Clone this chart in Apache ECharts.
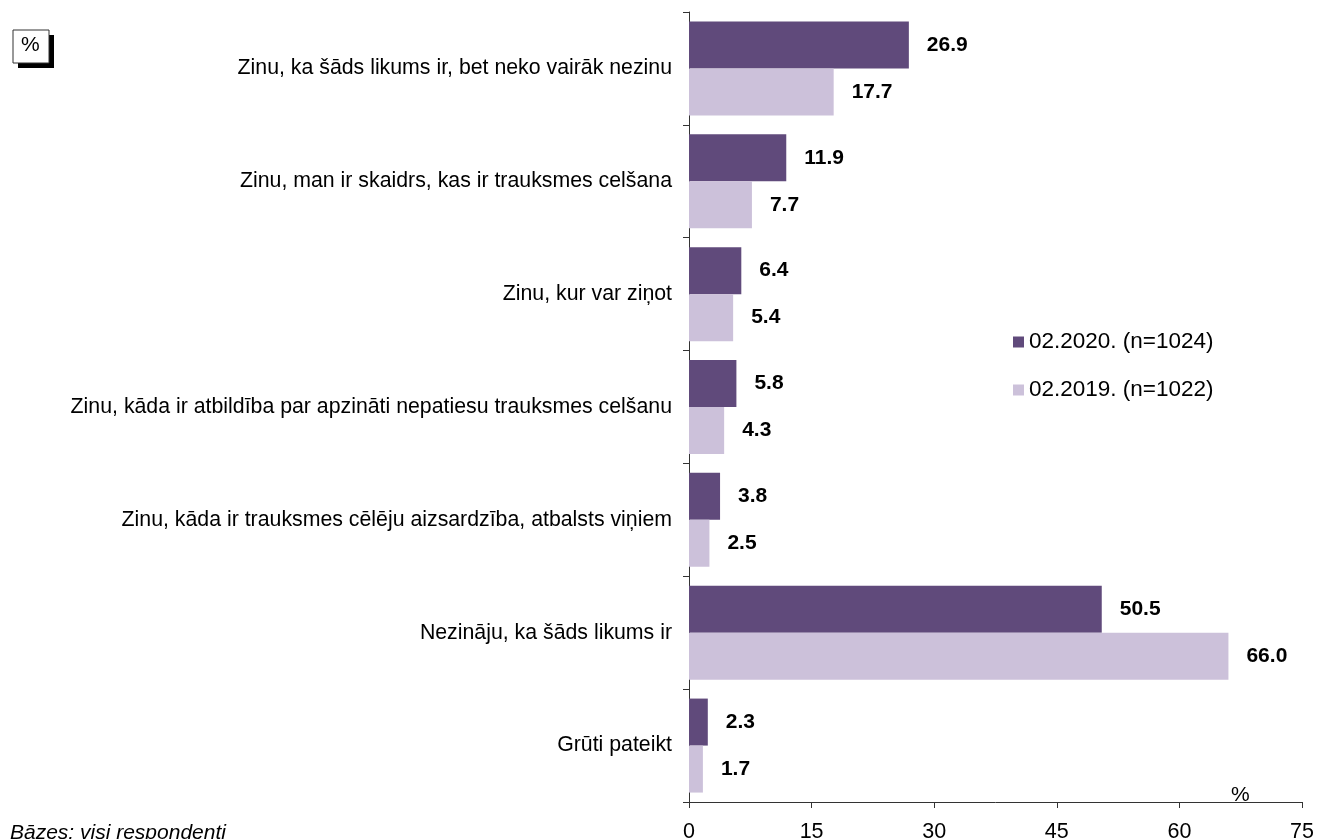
<!DOCTYPE html>
<html>
<head>
<meta charset="utf-8">
<script src="https://cdn.jsdelivr.net/npm/echarts@6/dist/echarts.min.js"></script>
<style>
  html, body { margin: 0; padding: 0; background: #fff; }
  #main { width: 1317px; height: 839px; }
</style>
</head>
<body>
<div id="main"></div>
<script>
// kategorijas (no augšas uz leju)
var categories = [
  'Zinu, ka šāds likums ir, bet neko vairāk nezinu',
  'Zinu, man ir skaidrs, kas ir trauksmes celšana',
  'Zinu, kur var ziņot',
  'Zinu, kāda ir atbildība par apzināti nepatiesu trauksmes celšanu',
  'Zinu, kāda ir trauksmes cēlēju aizsardzība, atbalsts viņiem',
  'Nezināju, ka šāds likums ir',
  'Grūti pateikt'
];
var seriesNames = ['02.2020. (n=1024)', '02.2019. (n=1022)'];
var values2020 = [26.9, 11.9, 6.4, 5.8, 3.8, 50.5, 2.3];
var values2019 = [17.7, 7.7, 5.4, 4.3, 2.5, 66.0, 1.7];
var xTicks = [0, 15, 30, 45, 60, 75];

var chart = echarts.init(document.getElementById('main'));
var font = 'Liberation Sans, Arial, sans-serif';

var labelStyle = {
  show: true,
  position: 'right',
  distance: 18,
  fontFamily: font,
  fontSize: 21,
  fontWeight: 'bold',
  color: '#000',
  formatter: function (p) { return p.value.toFixed(1); }
};

var option = {
  animation: false,
  textStyle: { fontFamily: font },
  grid: { left: 689, right: 15, top: 12, bottom: 37, containLabel: false, outerBoundsMode: 'none' },
  legend: {
    orient: 'vertical',
    left: 1013,
    top: 330,
    padding: 0,
    itemWidth: 11,
    itemHeight: 11,
    itemGap: 24,
    icon: 'rect',
    textStyle: { fontFamily: font, fontSize: 22.5, lineHeight: 24, color: '#000' },
    data: seriesNames
  },
  xAxis: {
    type: 'value',
    min: xTicks[0],
    max: xTicks[xTicks.length - 1],
    interval: 15,
    axisLine: { show: true, lineStyle: { color: '#333', width: 1 } },
    axisTick: { show: true, length: 6, lineStyle: { color: '#333' } },
    axisLabel: { fontFamily: font, fontSize: 21.5, color: '#000', margin: 19 },
    splitLine: { show: false }
  },
  yAxis: {
    type: 'category',
    inverse: true,
    data: categories,
    axisLine: { show: true, lineStyle: { color: '#333', width: 1 } },
    axisTick: { show: true, length: 6, lineStyle: { color: '#333' } },
    axisLabel: { fontFamily: font, fontSize: 21.3, color: '#000', margin: 17, padding: [6, 0, 0, 0] }
  },
  series: [
    {
      name: seriesNames[0],
      type: 'bar',
      data: values2020,
      barWidth: 47,
      barGap: '0%',
      itemStyle: { color: '#604a7b' },
      label: labelStyle
    },
    {
      name: seriesNames[1],
      type: 'bar',
      data: values2019,
      barWidth: 47,
      barGap: '0%',
      itemStyle: { color: '#ccc1da' },
      label: labelStyle
    }
  ],
  graphic: [
    { type: 'rect', shape: { x: 18, y: 35, width: 36, height: 33 }, style: { fill: '#000' } },
    { type: 'rect', shape: { x: 13, y: 30, width: 36, height: 33 }, style: { fill: '#fff', stroke: '#333', lineWidth: 1 } },
    { type: 'text', left: 21, top: 35, style: { text: '%', fontFamily: font, fontSize: 21, fill: '#000' } },
    { type: 'text', left: 1231, top: 785, style: { text: '%', fontFamily: font, fontSize: 21, fill: '#000' } },
    { type: 'text', left: 10, top: 823, style: { text: 'Bāzes: visi respondenti', fontFamily: font, fontSize: 21, fontStyle: 'italic', fill: '#000' } }
  ]
};

chart.setOption(option);
</script>
</body>
</html>
